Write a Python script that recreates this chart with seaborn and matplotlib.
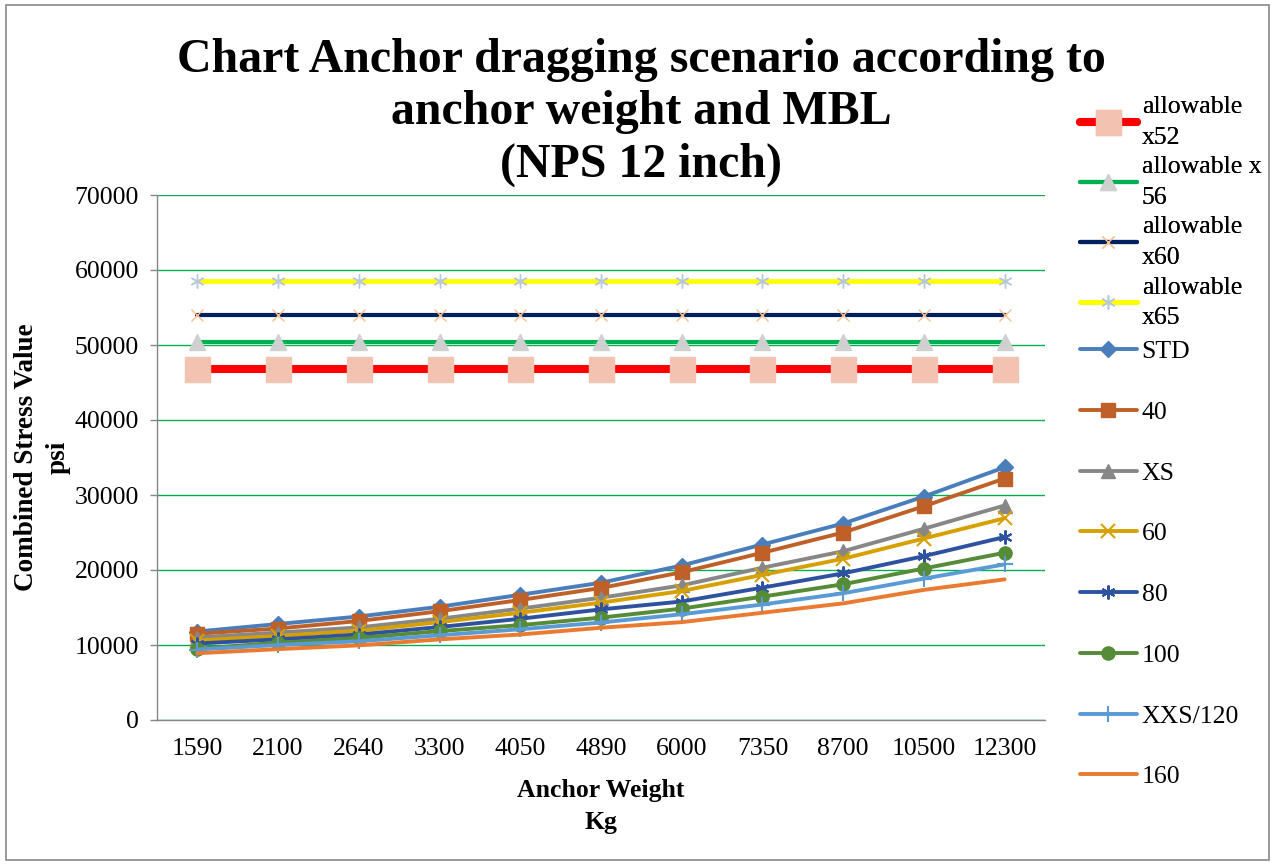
import matplotlib
matplotlib.use("Agg")
import matplotlib.pyplot as plt
import seaborn as sns
import pandas as pd
from matplotlib.patches import Rectangle

# ---------------- data ----------------
anchor_weight = ["1590", "2100", "2640", "3300", "4050", "4890",
                 "6000", "7350", "8700", "10500", "12300"]

allow_x52 = [46800] * 11
allow_x56 = [50400] * 11
allow_x60 = [54000] * 11
allow_x65 = [58500] * 11

std = [11800, 12800, 13800, 15100, 16700, 18300, 20600, 23400, 26200, 29800, 33700]
sch40 = [11500, 12200, 13200, 14500, 16000, 17600, 19700, 22300, 25000, 28500, 32200]
xs = [11000, 11650, 12350, 13500, 14850, 16300, 17950, 20300, 22500, 25500, 28600]
sch60 = [10600, 11200, 11900, 13050, 14300, 15650, 17200, 19350, 21500, 24200, 26900]
sch80 = [10200, 10750, 11400, 12400, 13500, 14750, 15800, 17650, 19550, 21850, 24400]
sch100 = [9500, 10300, 10950, 11850, 12650, 13650, 14850, 16450, 18100, 20200, 22300]
xxs120 = [9400, 10000, 10500, 11300, 12100, 13000, 14100, 15400, 16900, 18850, 20750]
sch160 = [8900, 9450, 9950, 10750, 11400, 12300, 13050, 14300, 15550, 17350, 18750]

series_names = ["allowable\nx52", "allowable x\n56", "allowable\nx60", "allowable\nx65",
                "STD", "40", "XS", "60", "80", "100", "XXS/120", "160"]
series_values = [allow_x52, allow_x56, allow_x60, allow_x65,
                 std, sch40, xs, sch60, sch80, sch100, xxs120, sch160]

# ---------------- styles ----------------
styles = [
    dict(color="#FF0000", lw=5.8, marker="s", ms=18, mfc="#F4C2B0", mec="#F4C2B0", mew=1),
    dict(color="#00B050", lw=3.0, marker="^", ms=11, mfc="#D0D0D0", mec="#D0D0D0", mew=1),
    dict(color="#002060", lw=3.0, marker="x", ms=9, mfc="#FAC090", mec="#FAC090", mew=1),
    dict(color="#FFFF00", lw=3.4, marker=(6, 2, 0), ms=10, mfc="#B4C7E7", mec="#B4C7E7", mew=1),
    dict(color="#4A7EBB", lw=2.8, marker="D", ms=8, mfc="#4A7EBB", mec="#4A7EBB", mew=1),
    dict(color="#BE6028", lw=2.8, marker="s", ms=10.5, mfc="#BE6028", mec="#BE6028", mew=1),
    dict(color="#878787", lw=2.8, marker="^", ms=10, mfc="#878787", mec="#878787", mew=1),
    dict(color="#D6A100", lw=2.8, marker="x", ms=10, mfc="#D6A100", mec="#D6A100", mew=1.5),
    dict(color="#2F52A0", lw=2.8, marker=(6, 2, 0), ms=10, mfc="#2F52A0", mec="#2F52A0", mew=1.5),
    dict(color="#568B37", lw=2.8, marker="o", ms=9.5, mfc="#568B37", mec="#568B37", mew=1),
    dict(color="#5B9BD5", lw=2.8, marker="+", ms=11, mfc="#5B9BD5", mec="#5B9BD5", mew=1.5),
    dict(color="#E97A30", lw=2.8, marker=None, ms=0, mfc="#E97A30", mec="#E97A30", mew=1),
]

sns.set_theme(style="white")
plt.rcParams["font.family"] = ["Liberation Serif", "DejaVu Serif"]
plt.rcParams["text.color"] = "black"
plt.rcParams["axes.labelcolor"] = "black"
plt.rcParams["xtick.color"] = "black"
plt.rcParams["ytick.color"] = "black"

fig = plt.figure(figsize=(12.75, 8.65), dpi=100)
ax = fig.add_axes([157 / 1275, 1 - 720 / 865, (1045 - 157) / 1275, (720 - 195) / 865])

for name, vals, st in zip(series_names, series_values, styles):
    df = pd.DataFrame({"w": anchor_weight, "v": vals})
    kw = dict(color=st["color"], linewidth=st["lw"])
    if st["marker"] is not None:
        kw.update(marker=st["marker"], markersize=st["ms"], markerfacecolor=st["mfc"],
                  markeredgecolor=st["mec"], markeredgewidth=st["mew"])
    sns.lineplot(data=df, x="w", y="v", ax=ax, sort=False, label=name, **kw)

ax.set_xlim(-0.5, len(anchor_weight) - 0.5)
ax.set_ylim(0, 70000)
ax.set_yticks(range(0, 70001, 10000))
ax.yaxis.grid(True, color="#00B050", linewidth=1.0)
ax.xaxis.grid(False)
ax.set_axisbelow(True)
for s in ["top", "right"]:
    ax.spines[s].set_visible(False)
for s in ["left", "bottom"]:
    ax.spines[s].set_color("#868686")
    ax.spines[s].set_linewidth(1.0)
ax.tick_params(axis="y", which="major", left=True, length=5, width=1, color="#868686",
               labelcolor="black", labelsize=18.5, pad=8)
ax.tick_params(axis="x", which="major", bottom=False, labelcolor="black",
               labelsize=18.5, pad=7)

ax.set_xlabel("Anchor Weight\nKg", fontsize=18.5, fontweight="bold", labelpad=14,
              linespacing=1.45)
ax.set_ylabel("Combined Stress Value\npsi", fontsize=19.5, fontweight="bold", labelpad=3,
              linespacing=1.35)

fig.suptitle("Chart Anchor dragging scenario according to\nanchor weight and MBL\n(NPS 12 inch)",
             fontsize=34.5, fontweight="bold", x=0.503, y=1 - 38 / 865, linespacing=1.25,
             color="black")

handles, labels = ax.get_legend_handles_labels()
if ax.get_legend() is not None:
    ax.get_legend().remove()

leg1 = fig.legend(handles[:4], labels[:4], loc="upper left",
                  bbox_to_anchor=(1080 / 1275, 1 - 96 / 865), frameon=False,
                  fontsize=18.5, handlelength=2.2, handletextpad=0.2,
                  labelspacing=0.30, borderpad=0, borderaxespad=0)
for t in leg1.get_texts():
    t.set_linespacing(1.5)
leg2 = fig.legend(handles[4:], labels[4:], loc="upper left",
                  bbox_to_anchor=(1080 / 1275, 1 - 340 / 865), frameon=False,
                  fontsize=18.5, handlelength=2.2, handletextpad=0.2,
                  labelspacing=1.47, borderpad=0, borderaxespad=0)
fig.add_artist(leg1)

fig.patches.append(Rectangle((6 / 1275, 5 / 865), 1263 / 1275, 855 / 865,
                             transform=fig.transFigure, fill=False,
                             edgecolor="#898989", linewidth=1.2))

fig.savefig("out.png", dpi=100)
